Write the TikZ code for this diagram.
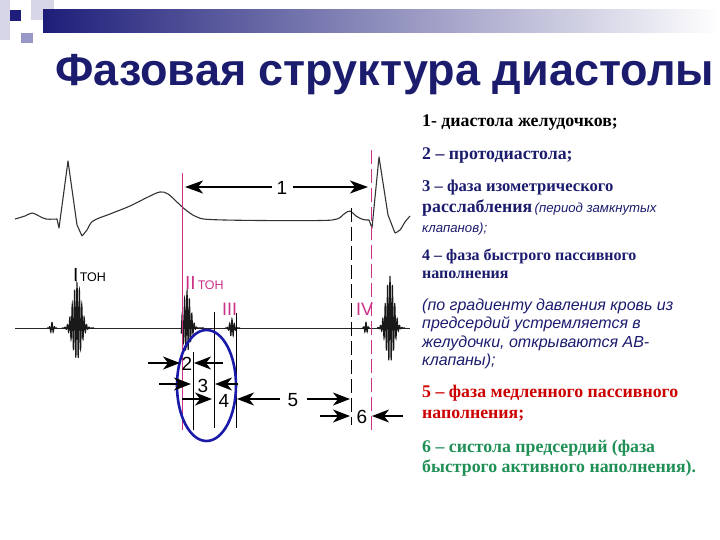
\documentclass[tikz,border=0pt]{standalone}
\usepackage{fontspec}
\setmainfont{Liberation Serif}
\setsansfont{Liberation Sans}
\usetikzlibrary{arrows.meta}
\definecolor{navy}{HTML}{1C1C6E}
\definecolor{barnavy}{HTML}{1E1E7A}
\definecolor{pinkl}{HTML}{CC3388}
\definecolor{redt}{HTML}{CC0000}
\definecolor{greent}{HTML}{1F8F55}
\definecolor{ellblue}{HTML}{1A1AA8}
\definecolor{sq1}{HTML}{D6D6E8}
\definecolor{sq2}{HTML}{9898C8}
\tikzset{
  ecg/.style={line width=1.1pt, black!80, line join=round},
  pcg/.style={line width=1pt, black!85, line join=round},
  burst/.style={line width=1.1pt, black!90, line join=miter},
  vpink/.style={line width=0.8pt, pinkl},
  vblack/.style={line width=0.9pt, black},
  arr/.style={line width=1.5pt, -{Stealth[length=17pt,width=13pt,inset=5pt]}},
  arrbig/.style={line width=1.6pt, -{Stealth[length=18pt,width=13pt,inset=5pt]}},
  num/.style={font=\sffamily\fontsize{19}{19}\selectfont, inner sep=0pt},
  ptxt/.style={anchor=base west, inner sep=0pt},
  bser/.style={font=\bfseries\fontsize{17.8}{17.8}\selectfont},
  bser3/.style={font=\bfseries\fontsize{16.6}{16.6}\selectfont},
  bser2/.style={font=\bfseries\fontsize{16}{16}\selectfont},
  itl/.style={font=\sffamily\itshape\fontsize{16}{16}\selectfont},
  itls/.style={font=\sffamily\itshape\fontsize{13.2}{13.2}\selectfont},
  tonlab/.style={inner sep=0pt, anchor=base west, font=\sffamily}
}
\begin{document}
\begin{tikzpicture}[x=1pt,y=-1pt]
\useasboundingbox (0,0) rectangle (720,540);
% header decoration
\fill[sq1] (0,0) rectangle (10,40);
\fill[sq1] (31,0) rectangle (54,20);
\shade[left color=barnavy, right color=white] (43,10) rectangle (720,33);
\fill[sq2] (21,33) rectangle (33,43);
\fill[barnavy] (10,10) rectangle (21,21);
% title
\node[anchor=base west, inner sep=0pt, text=navy, font=\sffamily\bfseries\fontsize{45}{45}\selectfont] (title) at (55,86) {Фазовая структура диастолы};

% ECG
\draw[ecg] plot[smooth, tension=0.6] coordinates {(15,219) (25,216) (32,213) (39,216) (46,219) (57,219)}
  -- (59,228) -- (68,161) -- (77,225) -- (82,236)
  plot[smooth, tension=0.6] coordinates {(82,236) (87,230) (93,221) (110,214) (130,206) (148,197) (160,192) (168,194) (178,203) (187,211) (197,217) (210,219.5) (260,220.5) (320,220.5) (337,219) (344,214) (350,211) (356,216) (363,219.5) (369,220)}
  -- (372,228) -- (379,157) -- (388,215) -- (395,233)
  plot[smooth, tension=0.6] coordinates {(395,233) (400,230) (405,222) (410,216)};

% PCG baseline and bursts
\draw[pcg] (15,328) -- (410,328);
\draw[burst] plot[domain=47:57, samples=40] (\x, {328 - 6*exp(-((\x-52)/2)^2)*sin(140*(\x-52)+90)});
\draw[burst] plot[domain=62:94, samples=260] (\x, {328 - exp(-((\x-77)/6)^2)*(7+38*sin(150*(\x-77)+90))});
\draw[burst] plot[domain=181:204, samples=180] (\x, {328 - exp(-((\x-187)/5)^2)*(7+30*sin(150*(\x-187)+90))});
\draw[burst] plot[domain=225:240, samples=100] (\x, {328 - 9*exp(-((\x-232)/3)^2)*sin(150*(\x-232)+90)});
\draw[burst] plot[domain=362:370, samples=40] (\x, {328 - 6*exp(-((\x-366)/1.8)^2)*sin(150*(\x-366)+90)});
\draw[burst] plot[domain=377:405, samples=240] (\x, {328 - exp(-((\x-390)/5.5)^2)*(9+43*sin(150*(\x-390)+90))});

% tone labels
\node[tonlab] (t1) at (73,281) {{\fontsize{19}{19}\selectfont I}\hspace{1.5pt}{\fontsize{12.5}{12.5}\selectfont ТОН}};
\node[tonlab, text=pinkl] (t2) at (185,289) {{\fontsize{19}{19}\selectfont II}\hspace{2pt}{\fontsize{12.5}{12.5}\selectfont ТОН}};
\node[tonlab, text=pinkl] (t3) at (222,315) {\fontsize{18}{18}\selectfont III};
\node[tonlab, text=pinkl] (t4) at (356,315) {\fontsize{18}{18}\selectfont IV};

% vertical lines
\coordinate (vp1t) at (182,173); \coordinate (vp1b) at (182,430);
\coordinate (vb1t) at (351,208); \coordinate (vb1b) at (351,425);
\coordinate (vp2t) at (371,150); \coordinate (vp2b) at (371,430);
\coordinate (vb2t) at (193,352); \coordinate (vb2b) at (193,430);
\coordinate (vb3t) at (214,312); \coordinate (vb3b) at (214,428);
\coordinate (vb4t) at (236,313); \coordinate (vb4b) at (236,428);
\draw[vpink] (vp1t) -- (vp1b);
\draw[vblack, dash pattern=on 14pt off 5pt] (vb1t) -- (vb1b);
\draw[vpink, dash pattern=on 14pt off 5pt] (vp2t) -- (vp2b);
\draw[vblack] (vb2t) -- (vb2b);
\draw[vblack] (vb3t) -- (vb3b);
\draw[vblack] (vb4t) -- (vb4b);

% ellipse
\draw[ellblue, line width=2.6pt] (206.5,385.5) ellipse [x radius=29.5, y radius=55.5];

% arrow 1
\node[num] (n1) at (282,188) {1};
\coordinate (a1l) at (185,187); \coordinate (a1r) at (368,187);
\draw[arrbig] (272,187) -- (a1l);
\draw[arrbig] (293,187) -- (a1r);

% arrows 2-6
\node[num] (n2) at (187,364) {2};
\node[num] (n3) at (203,386) {3};
\node[num] (n4) at (224,401) {4};
\node[num] (n5) at (293,400) {5};
\node[num] (n6) at (362,417) {6};
\coordinate (a2s) at (148,363); \coordinate (a2e) at (180,363);
\coordinate (a2s2) at (223,363); \coordinate (a2e2) at (194,363);
\coordinate (a3s) at (159,384); \coordinate (a3e) at (191,384);
\coordinate (a3s2) at (238,384); \coordinate (a3e2) at (215,384);
\coordinate (a4s) at (182,399); \coordinate (a4e) at (212,399);
\coordinate (a5s) at (280,399); \coordinate (a5e) at (237,399);
\coordinate (a5s2) at (307,399); \coordinate (a5e2) at (350,399);
\coordinate (a6s) at (320,416); \coordinate (a6e) at (350,416);
\coordinate (a6s2) at (403,416); \coordinate (a6e2) at (372,416);
\draw[arr] (a2s) -- (a2e);
\draw[arr] (a2s2) -- (a2e2);
\draw[arr] (a3s) -- (a3e);
\draw[arr] (a3s2) -- (a3e2);
\draw[arr] (a4s) -- (a4e);
\draw[arr] (a5s) -- (a5e);
\draw[arr] (a5s2) -- (a5e2);
\draw[arr] (a6s) -- (a6e);
\draw[arr] (a6s2) -- (a6e2);

% right text
\node[ptxt, bser] (l1) at (422,127) {1- диастола желудочков;};
\node[ptxt, bser, text=navy] (l2) at (422,160) {2 – протодиастола;};
\node[ptxt, bser3, text=navy] (l3) at (422,192) {3 – фаза изометрического};
\node[ptxt, text=navy] (l3b) at (422,213) {{\bfseries\fontsize{17.8}{17.8}\selectfont расслабления} {\sffamily\itshape\fontsize{13.2}{13.2}\selectfont (период замкнутых}};
\node[ptxt, itls, text=navy] (l3c) at (422,233) {клапанов);};
\node[ptxt, bser2, text=navy] (l4) at (422,260) {4 – фаза быстрого пассивного};
\node[ptxt, bser2, text=navy] (l4b) at (422,278) {наполнения};
\node[ptxt, itl, text=navy] (l4c) at (422,310) {(по градиенту давления кровь из};
\node[ptxt, itl, text=navy] (l4d) at (422,328) {предсердий устремляется в};
\node[ptxt, itl, text=navy] (l4e) at (422,347) {желудочки, открываются АВ-};
\node[ptxt, itl, text=navy] (l4f) at (422,365) {клапаны);};
\node[ptxt, bser, text=redt] (l5) at (422,397) {5 – фаза медленного пассивного};
\node[ptxt, bser, text=redt] (l5b) at (422,418) {наполнения;};
\node[ptxt, bser, text=greent] (l6) at (422,452) {6 – систола предсердий (фаза};
\node[ptxt, bser, text=greent] (l6b) at (422,472) {быстрого активного наполнения).};
\end{tikzpicture}
\end{document}
